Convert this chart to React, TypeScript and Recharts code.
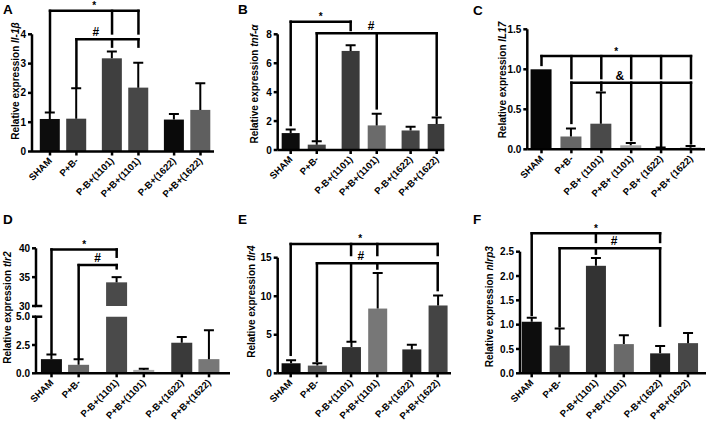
import React from "react"
import { BarChart, Bar, XAxis, YAxis, ReferenceLine, ReferenceDot } from "recharts"

const FONT = "'Liberation Sans', Arial, Helvetica, sans-serif"

// groups on the x axis
const groups = ["SHAM", "P+B-", "P-B+(1101)", "P+B+(1101)", "P-B+(1622)", "P+B+(1622)"]
const groupsC = ["SHAM", "P+B-", "P-B+ (1101)", "P+B+ (1101)", "P-B+ (1622)", "P+B+ (1622)"]

// mean and upper error
const il1bMean = [1.11, 1.12, 3.18, 2.18, 1.09, 1.42]
const il1bErr = [0.22, 1.04, 0.23, 0.85, 0.19, 0.91]
const tnfMean = [1.17, 0.37, 6.85, 1.7, 1.35, 1.8]
const tnfErr = [0.25, 0.23, 0.4, 0.8, 0.25, 0.45]
const il17Mean = [1.0, 0.16, 0.32, 0.05, 0.015, 0.02]
const il17Err = [0, 0.1, 0.39, 0.03, 0.008, 0.02]
const tlr2Mean = [1.25, 0.75, 34.1, 0.3, 2.7, 1.25]
const tlr2Err = [0.4, 0.5, 0.9, 0.1, 0.5, 2.55]
const tlr4Mean = [1.3, 1.0, 3.4, 8.4, 3.1, 8.8]
const tlr4Err = [0.4, 0.3, 0.7, 4.6, 0.6, 1.3]
const nlrp3Mean = [1.06, 0.57, 2.21, 0.6, 0.41, 0.62]
const nlrp3Err = [0.08, 0.35, 0.16, 0.18, 0.15, 0.21]

// y ticks
const ticksA = [0, 1, 2, 3, 4]
const ticksB = [0, 2, 4, 6, 8]
const ticksC = [0, 0.5, 1, 1.5]
const ticksDTop = [30, 35, 40]
const ticksDBottom = [0, 2.5, 5]
const ticksE = [0, 5, 10, 15]
const ticksF = [0, 0.5, 1, 1.5, 2, 2.5]

// significance brackets: level, group span, legs [group, bottom], mark, optional mark position
type Bracket = { mark: string; level: number; from: number; to: number; legs: number[][]; at?: number }

const il1bBrackets: Bracket[] = [
  { mark: "*", level: 4.8, from: 0, to: 3, legs: [[0, 1.36], [2, 4.03], [3, 4.03]] },
  { mark: "#", level: 3.83, from: 1, to: 3, legs: [[1, 2.18], [2, 3.58], [3, 3.58]], at: 1.74 },
]
const tnfBrackets: Bracket[] = [
  { mark: "*", level: 8.87, from: 0, to: 2, legs: [[0, 1.73], [2, 8.3]] },
  { mark: "#", level: 8.07, from: 1, to: 5, legs: [[1, 0.65], [3, 2.88], [5, 2.42]], at: 3.08 },
]
const il17Brackets: Bracket[] = [
  { mark: "*", level: 1.165, from: 0, to: 5, legs: [[0, 1.055], [1, 0.89], [2, 0.89], [3, 0.89], [4, 0.89], [5, 0.89]] },
  { mark: "&", level: 0.833, from: 1, to: 5, legs: [[1, 0.33], [2, 0.74], [3, 0.116], [4, 0.04], [5, 0.075]], at: 2.62 },
]
// tlr2 brackets are given in the lower (0-5) axis units
const tlr2Brackets: Bracket[] = [
  { mark: "*", level: 10.94, from: 0, to: 2, legs: [[0, 1.8], [2, 10.3]] },
  { mark: "#", level: 9.56, from: 1, to: 2, legs: [[1, 1.35], [2, 9.27]] },
]
const tlr4Brackets: Bracket[] = [
  { mark: "*", level: 16.78, from: 0, to: 5, legs: [[0, 2.4], [2, 15.35], [3, 15.35], [5, 15.35]], at: 2.65 },
  { mark: "#", level: 14.27, from: 1, to: 5, legs: [[1, 1.6], [2, 4.35], [3, 13.6], [5, 10.8]], at: 2.67 },
]
const nlrp3Brackets: Bracket[] = [
  { mark: "*", level: 2.877, from: 0, to: 4, legs: [[0, 1.2], [2, 2.7], [4, 2.7]] },
  { mark: "#", level: 2.57, from: 1, to: 4, legs: [[1, 0.97], [2, 2.46], [4, 0.98]], at: 2.95 },
]

const makeShape = (colors: string[], base: number) => (p: any) => {
  const { x, y, width, height, payload, index } = p
  if (payload.value == null || payload.value <= base || !(height > 0)) return null
  const e = (payload.err * height) / (payload.value - base)
  const cx = x + width / 2
  return (
    <g>
      <rect x={x} y={y} width={width} height={height} fill={colors[index]} />
      {e > 0.5 && (
        <g stroke="#000" strokeWidth={2}>
          <line x1={cx} x2={cx} y1={y} y2={y - e} />
          <line x1={cx - 5} x2={cx + 5} y1={y - e} y2={y - e} />
        </g>
      )}
    </g>
  )
}

function ChartLayer({ c }: any) {
  const [left, top, W, H] = c.box
  const pos = c.labels.map((_: string, i: number) => i + c.gap * Math.floor(i / 2))
  const span = pos[5] - pos[0]
  const step = (c.last - c.first) / span
  const dMin = -(c.first - c.plot.l) / step
  const dMax = span + (c.plot.r - c.last) / step
  const rows = c.labels.map((name: string, i: number) => ({ name, x: pos[i], value: c.values[i], err: c.errs[i] }))
  const xH = 40
  const margin = {
    top: c.plot.t - top,
    right: left + W - c.plot.r,
    bottom: c.showX ? top + H - c.plot.b - xH : top + H - c.plot.b,
    left: 0,
  }
  const fmt = (v: number) => v.toFixed(c.dec)

  const XTick = (p: any) => {
    const i = pos.indexOf(p.payload.value)
    const ax = p.x + 2.5
    const ay = p.y + 4
    return (
      <text x={ax} y={ay} textAnchor="end" transform={`rotate(-45 ${ax} ${ay})`}
        fontSize={9.5} fontWeight="bold" fontFamily={FONT} fill="#000">
        {c.labels[i]}
      </text>
    )
  }

  const yLabel = c.gene
    ? {
        content: () => (
          <text transform={`translate(${c.labelC[0] - left + 3.5},${c.labelC[1] - top}) rotate(-90)`}
            textAnchor="middle" fontSize={10} fontWeight="bold" fontFamily={FONT} fill="#000">
            Relative expression <tspan fontStyle="italic">{c.gene}</tspan>
          </text>
        ),
      }
    : undefined

  const axisStyle = { stroke: "#000", strokeWidth: 2.5 }
  const bracketStyle = { stroke: "#000", strokeWidth: 2.5, strokeLinecap: "square" as const, ifOverflow: "visible" as const }

  return (
    <div style={{ position: "absolute", left, top, width: W, height: H }}>
      <BarChart width={W} height={H} data={rows} margin={margin}>
        <XAxis type="number" dataKey="x" domain={[dMin, dMax]} ticks={pos} interval={0} allowDataOverflow
          hide={!c.showX} height={xH} tick={<XTick />} tickSize={4}
          axisLine={axisStyle} tickLine={axisStyle} />
        <YAxis type="number" domain={c.yDomain} ticks={c.yTicks} interval={0} allowDataOverflow
          width={c.plot.l - left} tickFormatter={fmt} tickSize={4} tickMargin={2}
          tick={{ fontSize: 10, fontWeight: "bold", fill: "#000", fontFamily: FONT }}
          axisLine={axisStyle} tickLine={axisStyle}
          label={yLabel} />
        <Bar dataKey="value" barSize={c.barSize} isAnimationActive={false} shape={makeShape(c.colors, c.yDomain[0])} />
        {c.breakAt != null && (
          <ReferenceLine segment={[{ x: dMin, y: c.breakAt }, { x: dMin + 5 / step, y: c.breakAt }]} {...bracketStyle} />
        )}
        {c.brackets.map((b: Bracket, k: number) => (
          <ReferenceLine key={`h${k}`} segment={[{ x: pos[b.from], y: b.level }, { x: pos[b.to], y: b.level }]} {...bracketStyle} />
        ))}
        {c.brackets.flatMap((b: Bracket, k: number) =>
          b.legs.map(([g, bottom], j) => (
            <ReferenceLine key={`l${k}-${j}`} segment={[{ x: pos[g], y: b.level }, { x: pos[g], y: bottom }]} {...bracketStyle} />
          )),
        )}
        {c.brackets.map((b: Bracket, k: number) => (
          <ReferenceDot key={`m${k}`} x={b.at ?? (pos[b.from] + pos[b.to]) / 2} y={b.level} r={0} ifOverflow="visible"
            shape={(p: any) => (
              <text x={p.cx} y={p.cy - (b.mark === "*" ? 1.5 : 3)} textAnchor="middle" fontWeight="bold"
                fontSize={b.mark === "*" ? 10 : 12} fontFamily={FONT} fill="#000">
                {b.mark}
              </text>
            )} />
        ))}
      </BarChart>
    </div>
  )
}

const layers = [
  {
    labels: groups, values: il1bMean, errs: il1bErr, gene: "Il-1β", brackets: il1bBrackets,
    colors: ["#0d0d0d", "#3e3e3e", "#3f3f3f", "#474747", "#0a0a0a", "#5f5f5f"],
    box: [0, 0, 235, 210], plot: { l: 32, r: 214, t: 34.3, b: 151.5 }, first: 50, last: 200.5, gap: 0.35,
    yDomain: [0, 4], yTicks: ticksA, dec: 0, barSize: 20, labelC: [15, 81], showX: true,
  },
  {
    labels: groups, values: tnfMean, errs: tnfErr, gene: "tnf-α", brackets: tnfBrackets,
    colors: ["#0d0d0d", "#444444", "#3a3a3a", "#6b6b6b", "#444444", "#3c3c3c"],
    box: [235, 0, 235, 210], plot: { l: 277.7, r: 444.3, t: 34.3, b: 150 }, first: 290.7, last: 436.7, gap: 0.3,
    yDomain: [0, 8], yTicks: ticksB, dec: 0, barSize: 18, labelC: [254, 84], showX: true,
  },
  {
    labels: groupsC, values: il17Mean, errs: il17Err, gene: "IL17", brackets: il17Brackets,
    colors: ["#050505", "#666666", "#4a4a4a", "#a8a8a8", "#5e5e5e", "#707070"],
    box: [470, 0, 238, 210], plot: { l: 527.3, r: 705, t: 29.3, b: 149.3 }, first: 541.5, last: 691, gap: 0,
    yDomain: [0, 1.5], yTicks: ticksC, dec: 1, barSize: 21, labelC: [502.5, 80], showX: true,
  },
  {
    labels: groups, values: tlr2Mean, errs: tlr2Err, gene: "tlr2", brackets: tlr2Brackets,
    colors: ["#0d0d0d", "#6a6a6a", "#4a4a4a", "#aaaaaa", "#3a3a3a", "#777777"],
    box: [0, 210, 235, 212], plot: { l: 36, r: 230, t: 316.7, b: 373.3 }, first: 51.5, last: 209, gap: 0.4,
    yDomain: [0, 5], yTicks: ticksDBottom, dec: 1, barSize: 21, labelC: [7.5, 307.7], showX: true, breakAt: 5,
  },
  {
    labels: groups, values: tlr2Mean, errs: tlr2Err, gene: null, brackets: [],
    colors: ["#0d0d0d", "#6a6a6a", "#4a4a4a", "#aaaaaa", "#3a3a3a", "#777777"],
    box: [0, 210, 235, 212], plot: { l: 36, r: 230, t: 248.3, b: 306 }, first: 51.5, last: 209, gap: 0.4,
    yDomain: [30, 40], yTicks: ticksDTop, dec: 0, barSize: 21, showX: false, breakAt: 30,
  },
  {
    labels: groups, values: tlr4Mean, errs: tlr4Err, gene: "tlr4", brackets: tlr4Brackets,
    colors: ["#0d0d0d", "#555555", "#333333", "#777777", "#2a2a2a", "#444444"],
    box: [235, 210, 235, 212], plot: { l: 277.7, r: 451, t: 257.7, b: 373.3 }, first: 290.7, last: 437.7, gap: 0.3,
    yDomain: [0, 15], yTicks: ticksE, dec: 0, barSize: 19, labelC: [251, 301.7], showX: true,
  },
  {
    labels: groups, values: nlrp3Mean, errs: nlrp3Err, gene: "nlrp3", brackets: nlrp3Brackets,
    colors: ["#0d0d0d", "#474747", "#333333", "#6a6a6a", "#222222", "#474747"],
    box: [470, 210, 238, 212], plot: { l: 520, r: 706, t: 251.7, b: 373.3 }, first: 531.7, last: 688, gap: 0.3,
    yDomain: [0, 2.5], yTicks: ticksF, dec: 1, barSize: 20, labelC: [489, 306.7], showX: true,
  },
]

const letters = [
  ["A", 3, 14], ["B", 238, 14], ["C", 473, 15],
  ["D", 3, 223.5], ["E", 238, 223.5], ["F", 473, 223.5],
]

export default function App() {
  return (
    <div style={{ position: "absolute", left: 0, top: 0, width: 708, height: 422, background: "#fff", fontFamily: FONT }}>
      {layers.map((c, i) => (
        <ChartLayer key={i} c={c} />
      ))}
      <svg width={708} height={422} style={{ position: "absolute", left: 0, top: 0, pointerEvents: "none" }}>
        {letters.map(([t, x, y]) => (
          <text key={t as string} x={x as number} y={y as number} fontSize={13.5} fontWeight="bold" fontFamily={FONT} fill="#000">
            {t}
          </text>
        ))}
      </svg>
    </div>
  )
}
